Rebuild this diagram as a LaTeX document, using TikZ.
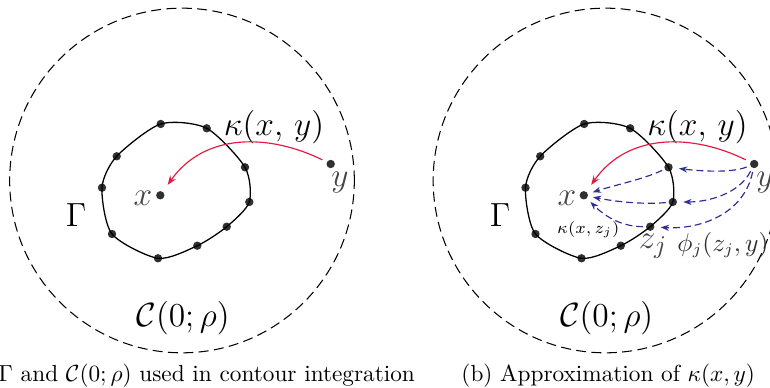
\documentclass[tikz,border=0pt]{standalone}
\usetikzlibrary{arrows.meta}
\definecolor{kred}{HTML}{E8173F}
\definecolor{kblue}{HTML}{2E2F96}
\definecolor{dotgray}{HTML}{303030}
\definecolor{labgray}{HTML}{454545}
\tikzset{
  dot/.style={circle,fill=dotgray,inner sep=0pt,minimum size=3.6pt},
  bound/.style={line width=0.45pt,dash pattern=on 4.3pt off 2.3pt},
  contour/.style={line width=0.55pt},
  redarr/.style={draw=kred,line width=0.5pt,-{Stealth[length=4pt,width=3pt]}},
  bluearr/.style={draw=kblue,line width=0.5pt,dash pattern=on 3pt off 1.7pt,-{Stealth[length=3.6pt,width=2.6pt]}},
  ptlab/.style={text=labgray,inner sep=0pt,font=\fontsize{15}{17}\selectfont},
  biglab/.style={inner sep=0pt,font=\fontsize{14.5}{16}\selectfont},
  klab/.style={inner sep=0pt,font=\fontsize{13.5}{15}\selectfont},
  clab/.style={inner sep=0pt,font=\fontsize{15}{17}\selectfont},
  smalllab/.style={inner sep=0pt,font=\fontsize{7.5}{9}\selectfont},
  philab/.style={inner sep=0pt,text=dotgray,font=\fontsize{10.5}{12}\selectfont},
  caplab/.style={inner sep=0pt,font=\fontsize{10}{12}\selectfont},
}
\begin{document}
\begin{tikzpicture}[x=0.43pt,y=-0.43pt]
\useasboundingbox (0,0) rectangle (770,388);
\clip (0,0) rectangle (770,388);
% ---------------- left panel ----------------
\node[circle,draw,bound,inner sep=0pt,minimum size=148.2pt] (CL) at (182,180.5) {};
\node[dot] (p1) at (160.7,124) {};
\node[dot] (p2) at (206.7,128.3) {};
\node[dot] (p3) at (245,167.3) {};
\node[dot] (p4) at (249.3,202) {};
\node[dot] (p5) at (226.7,226.7) {};
\node[dot] (p6) at (197.3,245.7) {};
\node[dot] (p7) at (158,258.3) {};
\node[dot] (p8) at (112,234) {};
\node[dot] (p9) at (102,187.7) {};
\node[dot] (p10) at (116.7,156.3) {};
\draw[contour] plot[smooth cycle,tension=0.45] coordinates {(p1) (p2) (p3) (p4) (p5) (p6) (p7) (p8) (p9) (p10)};
\node[dot] (xL) at (160.3,195.3) {};
\node[dot] (yL) at (330.7,164) {};
\node[ptlab] (xLl) at (143,198) {$x$};
\node[ptlab] (yLl) at (340,183) {$y$};
\node[biglab] (GL) at (76,215) {$\Gamma$};
\node[klab] (kL) at (274,127) {$\kappa(x,\,y)$};
\node[clab] (cL) at (183,318) {$\mathcal{C}(0;\rho)$};
\draw[redarr,shorten <=2pt,shorten >=3.5pt] (yL) .. controls +(-60.7,-30) and +(44.7,-63.3) .. (xL);
% ---------------- right panel ----------------
\node[circle,draw,bound,inner sep=0pt,minimum size=148.2pt] (CR) at (605.5,180.5) {};
\node[dot] (q1) at (584.2,124) {};
\node[dot] (q2) at (630.2,128.3) {};
\node[dot] (q3) at (668.5,167.3) {};
\node[dot] (q4) at (672.8,202) {};
\node[dot] (q5) at (650.2,226.7) {};
\node[dot] (q6) at (620.8,245.7) {};
\node[dot] (q7) at (581.5,258.3) {};
\node[dot] (q8) at (535.5,234) {};
\node[dot] (q9) at (525.5,187.7) {};
\node[dot] (q10) at (540.2,156.3) {};
\draw[contour] plot[smooth cycle,tension=0.45] coordinates {(q1) (q2) (q3) (q4) (q5) (q6) (q7) (q8) (q9) (q10)};
\node[dot] (xR) at (583.8,195.3) {};
\node[dot] (yR) at (754.2,164) {};
\node[ptlab] (xRl) at (567,198) {$x$};
\node[ptlab] (yRl) at (765,183) {$y$};
\node[biglab] (GR) at (500,215) {$\Gamma$};
\node[klab] (kR) at (697.5,127) {$\kappa(x,\,y)$};
\node[smalllab] (kzR) at (588.3,229.3) {$\kappa(x,z_j)$};
\node[ptlab] (zR) at (653,246) {$z_j$};
\node[philab] (phiR) at (723,245) {$\phi_j(z_j,y)$};
\node[clab] (cR) at (606.7,318) {$\mathcal{C}(0;\rho)$};
\draw[redarr,shorten <=2pt,shorten >=3.5pt] (yR) .. controls +(-60.7,-30) and +(44.7,-63.3) .. (xR);
% blue dashed: y -> z_j
\draw[bluearr,shorten <=1.5pt,shorten >=2.5pt] (yR) .. controls +(-25,10) and +(25,3) .. (q3);
\draw[bluearr,shorten <=1.5pt,shorten >=2.5pt] (yR) .. controls +(-15,30) and +(35,0) .. (q4);
\draw[bluearr,shorten <=1.5pt,shorten >=2.5pt] (yR) .. controls +(-10,50) and +(50,3) .. (q5);
% blue dashed: z_j -> x
\draw[bluearr,shorten <=1pt,shorten >=2pt] (q3) .. controls +(-25,12) and +(30,-10) .. (xR);
\draw[bluearr,shorten <=1pt,shorten >=2pt] (q4) .. controls +(-35,3) and +(25,5) .. (xR);
\draw[bluearr,shorten <=1pt,shorten >=2pt] (q5) .. controls +(-30,0) and +(20,20) .. (xR);
% ---------------- captions ----------------
\node[caplab,anchor=base west] (capA) at (-2,382) {$\Gamma$ and $\mathcal{C}(0;\rho)$ used in contour integration};
\node[caplab,anchor=base west] (capB) at (461,382) {(b) Approximation of $\kappa(x,y)$};
\end{tikzpicture}
\end{document}
